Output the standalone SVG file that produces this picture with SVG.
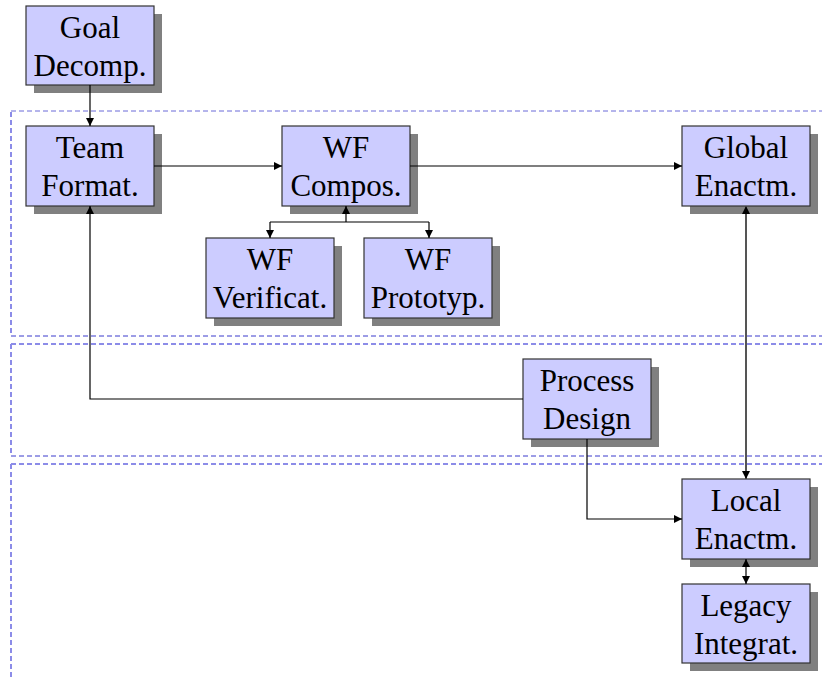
<svg xmlns="http://www.w3.org/2000/svg" width="822" height="680" viewBox="0 0 822 680">
  <style>
    .lane-top { fill: none; stroke: #8c8ce8; stroke-width: 2; stroke-dasharray: 5 3; }
    .lane-first { fill: none; stroke: #6a6ad8; stroke-width: 1; stroke-dasharray: 5 3; }
    .lane-bottom { fill: none; stroke: #3a3acc; stroke-width: 1; stroke-dasharray: 5 3; }
    .shadow { fill: #808080; }
    .box { fill: #ccccff; stroke: #333333; stroke-width: 1.2; }
    .wire { fill: none; stroke: #000000; stroke-width: 1.2; }
    .wire-thick { fill: none; stroke: #555555; stroke-width: 2; }
  </style>
  <defs>
    <marker id="arrow" viewBox="0 0 10 10" refX="10" refY="5" markerWidth="8" markerHeight="8" markerUnits="userSpaceOnUse" orient="auto-start-reverse">
      <path d="M0,0 L10,5 L0,10 Z" fill="#000000"/>
    </marker>
  </defs>

  <!-- swimlanes -->
  <g id="lanes">
    <path class="lane-first" d="M11,111 H822"/>
    <path class="lane-top" d="M11,112 V336"/>
    <path class="lane-bottom" d="M11,336 H822"/>
    <path class="lane-top" d="M11,344 H822"/>
    <path class="lane-top" d="M11,344 V456"/>
    <path class="lane-bottom" d="M11,456 H822"/>
    <path class="lane-top" d="M11,464 H822"/>
    <path class="lane-top" d="M11,464 V678"/>
  </g>

  <g id="nodes" font-family="Liberation Serif, Times New Roman, serif" font-size="31" text-anchor="middle" fill="#000000">
    <g id="goal-decomp">
      <rect class="shadow" x="34" y="14" width="128" height="79"/>
      <rect class="box" x="26" y="6" width="128" height="79"/>
      <text x="90" y="38">Goal</text>
      <text x="90" y="76">Decomp.</text>
    </g>

    <g id="team-format">
      <rect class="shadow" x="34" y="134" width="128" height="80"/>
      <rect class="box" x="26" y="126" width="128" height="80"/>
      <text x="90" y="158">Team</text>
      <text x="90" y="196">Format.</text>
    </g>

    <g id="wf-compos">
      <rect class="shadow" x="290" y="134" width="128" height="80"/>
      <rect class="box" x="282" y="126" width="128" height="80"/>
      <text x="346" y="158">WF</text>
      <text x="346" y="196">Compos.</text>
    </g>

    <g id="global-enactm">
      <rect class="shadow" x="690" y="134" width="128" height="80"/>
      <rect class="box" x="682" y="126" width="128" height="80"/>
      <text x="746" y="158">Global</text>
      <text x="746" y="196">Enactm.</text>
    </g>

    <g id="wf-verificat">
      <rect class="shadow" x="214" y="246" width="128" height="80"/>
      <rect class="box" x="206" y="238" width="128" height="80"/>
      <text x="270" y="270">WF</text>
      <text x="270" y="308">Verificat.</text>
    </g>

    <g id="wf-prototyp">
      <rect class="shadow" x="372" y="246" width="128" height="80"/>
      <rect class="box" x="364" y="238" width="128" height="80"/>
      <text x="428" y="270">WF</text>
      <text x="428" y="308">Prototyp.</text>
    </g>

    <g id="process-design">
      <rect class="shadow" x="531" y="367" width="128" height="80"/>
      <rect class="box" x="523" y="359" width="128" height="80"/>
      <text x="587" y="391">Process</text>
      <text x="587" y="429">Design</text>
    </g>

    <g id="local-enactm">
      <rect class="shadow" x="690" y="487" width="128" height="80"/>
      <rect class="box" x="682" y="479" width="128" height="80"/>
      <text x="746" y="511">Local</text>
      <text x="746" y="549">Enactm.</text>
    </g>

    <g id="legacy-integrat">
      <rect class="shadow" x="690" y="592" width="128" height="79"/>
      <rect class="box" x="682" y="584" width="128" height="79"/>
      <text x="746" y="616">Legacy</text>
      <text x="746" y="654">Integrat.</text>
    </g>
  </g>

  <!-- connectors, drawn over the box shadows -->
  <g id="connectors">
    <path class="wire" d="M90,85 V126" marker-end="url(#arrow)"/>
    <path class="wire" d="M154,166 H282" marker-end="url(#arrow)"/>
    <path class="wire" d="M410,166 H682" marker-end="url(#arrow)"/>
    <path class="wire" d="M346,222 V206" marker-end="url(#arrow)"/>
    <path class="wire" d="M270,222 H429"/>
    <path class="wire" d="M270,222 V238" marker-end="url(#arrow)"/>
    <path class="wire" d="M429,222 V238" marker-end="url(#arrow)"/>
    <path class="wire" d="M523,399 H90 V206" marker-end="url(#arrow)"/>
    <path class="wire-thick" d="M746,206 V479" marker-start="url(#arrow)" marker-end="url(#arrow)"/>
    <path class="wire" d="M587,439 V519 H682" marker-end="url(#arrow)"/>
    <path class="wire" d="M746,559 V584" marker-start="url(#arrow)" marker-end="url(#arrow)"/>
  </g>
</svg>
